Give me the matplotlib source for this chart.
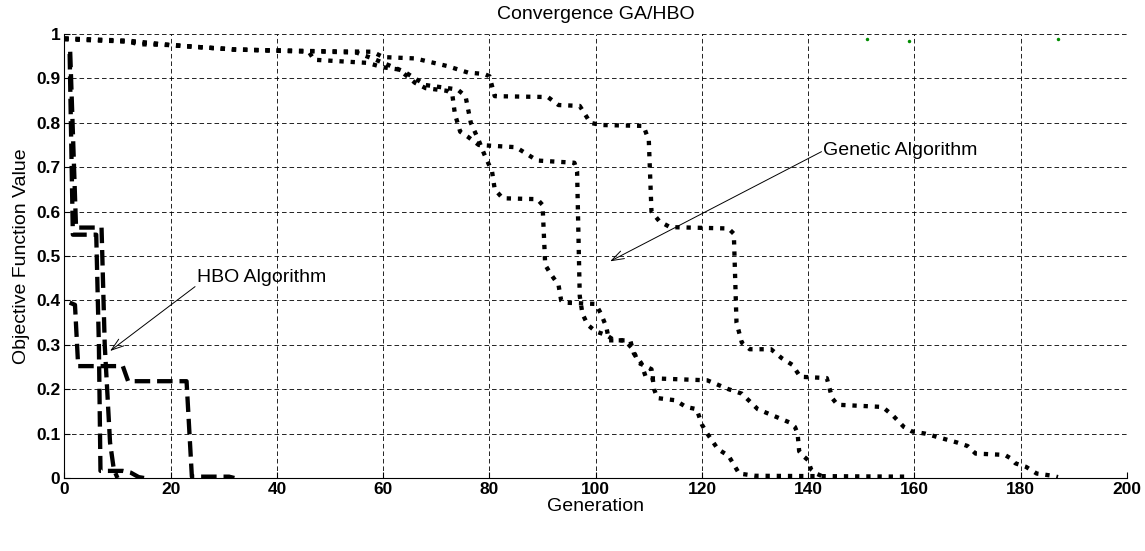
import numpy as np
import matplotlib
matplotlib.use('Agg')
import matplotlib.pyplot as plt

plt.rcParams['font.family'] = ['Liberation Sans', 'DejaVu Sans']

# HBO runs (dashed)
hbo1_x = [1, 1.6, 6, 6.5, 6.8, 11, 12.5, 14, 15]
hbo1_y = [0.955, 0.548, 0.548, 0.3, 0.016, 0.016, 0.012, 0.002, 0.0]
hbo2_x = [1.1, 2.2, 7, 7.6, 8.6, 9.3, 10]
hbo2_y = [0.96, 0.564, 0.564, 0.3, 0.08, 0.02, 0.0]
hbo3_x = [1, 2, 2.6, 11, 12, 23, 24, 31, 32]
hbo3_y = [0.395, 0.39, 0.252, 0.252, 0.218, 0.218, 0.003, 0.003, 0.0]

# GA runs (dotted)
gaA_x = [0, 12, 20, 32, 46, 47, 57, 60, 63, 66, 68, 72, 73, 73.5, 74.5, 76, 78, 85, 87, 89, 96,
         96.5, 97, 97.5, 98.5, 100, 102, 103.5, 105.5, 107, 108, 110.5, 111, 111.6, 115, 117, 119,
         120, 121, 123, 125, 126, 127, 130, 159]
gaA_y = [0.99, 0.985, 0.975, 0.965, 0.96, 0.942, 0.935, 0.925, 0.92, 0.89, 0.878, 0.872, 0.865, 0.82,
         0.78, 0.768, 0.75, 0.745, 0.73, 0.715, 0.71, 0.69, 0.41, 0.37, 0.345, 0.33, 0.322, 0.31, 0.31,
         0.29, 0.26, 0.245, 0.2, 0.18, 0.175, 0.16, 0.155, 0.12, 0.1, 0.065, 0.05, 0.03, 0.01, 0.005,
         0.003]
gaB_x = [0, 12, 20, 32, 44, 55, 58, 61, 64, 66, 68, 74, 75.5, 76.5, 78, 79, 80.5, 81, 82.5, 89, 90,
         90.5, 91.5, 93, 93.5, 94, 100, 101, 102, 102.5, 106.5, 107.2, 108.5, 109.5, 121, 123, 125,
         127.5, 130.5, 133.5, 136.5, 137.5, 138, 138.3, 139, 140, 140.5, 141.5, 143]
gaB_y = [0.99, 0.983, 0.975, 0.965, 0.962, 0.958, 0.945, 0.93, 0.915, 0.9, 0.885, 0.875, 0.86, 0.8,
         0.76, 0.73, 0.69, 0.65, 0.63, 0.628, 0.615, 0.48, 0.46, 0.435, 0.4, 0.395, 0.392, 0.37, 0.34,
         0.31, 0.31, 0.28, 0.26, 0.225, 0.22, 0.21, 0.2, 0.19, 0.155, 0.14, 0.125, 0.115, 0.1, 0.06,
         0.05, 0.04, 0.02, 0.01, 0.002]
gaC_x = [0, 12, 14, 20, 32, 44, 58, 60, 66, 72, 76, 79, 80, 81, 91, 93, 97, 99, 101, 109, 110, 110.5,
         112, 114, 125, 126, 126.5, 127.5, 129, 133, 135, 137, 138.5, 143.5, 144.5, 145.5, 154, 156,
         158, 159.5, 162, 168, 170, 171.5, 177, 178, 179, 181, 183, 186, 187]
gaC_y = [0.988, 0.983, 0.977, 0.975, 0.965, 0.962, 0.96, 0.948, 0.945, 0.928, 0.913, 0.91, 0.905,
         0.86, 0.858, 0.84, 0.838, 0.8, 0.795, 0.793, 0.76, 0.6, 0.578, 0.565, 0.562, 0.55, 0.35,
         0.305, 0.29, 0.29, 0.27, 0.255, 0.228, 0.225, 0.18, 0.165, 0.16, 0.14, 0.115, 0.105, 0.1,
         0.08, 0.072, 0.055, 0.052, 0.045, 0.033, 0.025, 0.01, 0.005, 0.002]

# small green points near the top
pts_x = [151, 159, 187]
pts_y = [0.988, 0.985, 0.988]

fig = plt.figure(figsize=(11.45, 5.51), dpi=100)
ax = fig.add_axes([0.0562, 0.1325, 0.9281, 0.8058])

lw = 3.1
for xs, ys in [(hbo1_x, hbo1_y), (hbo2_x, hbo2_y), (hbo3_x, hbo3_y)]:
    ax.plot(xs, ys, color='k', lw=lw, ls=(0, (3.6, 1.6)), solid_capstyle='butt', dash_capstyle='butt')
for xs, ys in [(gaA_x, gaA_y), (gaB_x, gaB_y), (gaC_x, gaC_y)]:
    ax.plot(xs, ys, color='k', lw=lw, ls=(0, (1.0, 1.6)), dash_capstyle='butt')

ax.plot(pts_x, pts_y, ls='none', marker='o', ms=2.5, color=(0, 0.55, 0), mec='none')

ax.set_xlim(0, 200)
ax.set_ylim(0, 1)
ax.set_xticks(np.arange(0, 201, 20))
ax.set_yticks(np.arange(0, 1.01, 0.1))
ax.set_yticklabels(['0', '0.1', '0.2', '0.3', '0.4', '0.5', '0.6', '0.7', '0.8', '0.9', '1'])
ax.grid(True, color='k', lw=0.6, ls=(0, (5.5, 3.5)))
ax.set_axisbelow(True)
ax.spines['top'].set_visible(False)
ax.spines['right'].set_visible(False)
ax.tick_params(direction='in', length=4, width=0.8, labelsize=12.5, pad=3)
for lab in ax.get_xticklabels() + ax.get_yticklabels():
    lab.set_fontweight('bold')

ax.set_title('Convergence GA/HBO', fontsize=14, pad=11)
ax.set_xlabel('Generation', fontsize=14, labelpad=0.5)
ax.set_ylabel('Objective Function Value', fontsize=14, labelpad=4)

arrow = dict(arrowstyle='->,head_length=0.9,head_width=0.3', color='k', lw=0.7, shrinkA=0, shrinkB=0)
ax.annotate('', xy=(8.6, 0.286), xytext=(24.6, 0.431), arrowprops=arrow)
ax.text(24.9, 0.452, 'HBO Algorithm', fontsize=14, va='center', ha='left')
ax.annotate('', xy=(102.7, 0.488), xytext=(142.5, 0.735), arrowprops=arrow)
ax.text(142.8, 0.737, 'Genetic Algorithm', fontsize=14, va='center', ha='left')

fig.savefig('out.png', dpi=100)
